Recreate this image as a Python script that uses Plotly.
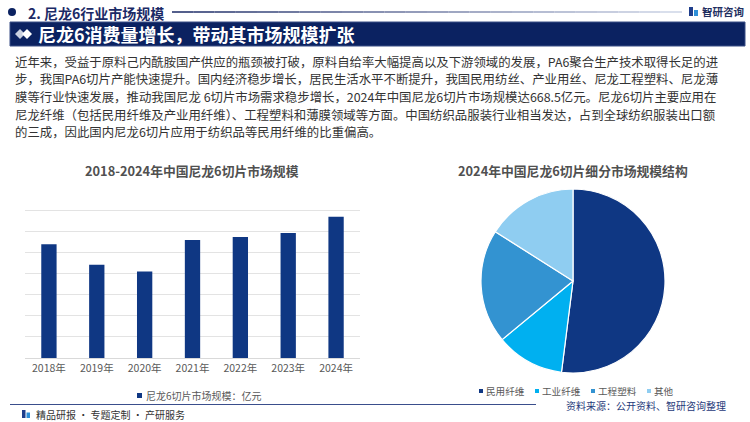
import plotly.graph_objects as go

W, H = 750, 422

# ---------------- data ----------------
years = ["2018年", "2019年", "2020年", "2021年", "2022年", "2023年", "2024年"]
market_size = [539, 442, 409, 559, 573, 592, 668.5]
bar_series_name = "尼龙6切片市场规模：亿元"

segments = ["民用纤维", "工业纤维", "工程塑料", "其他"]
segment_share = [52, 12, 20, 16]

header_text = "2. 尼龙6行业市场规模"
title_text = "尼龙6消费量增长，带动其市场规模扩张"
bar_title = "2018-2024年中国尼龙6切片市场规模"
pie_title = "2024年中国尼龙6切片细分市场规模结构"
paragraph_lines = [
    "近年来，受益于原料己内酰胺国产供应的瓶颈被打破，原料自给率大幅提高以及下游领域的发展，PA6聚合生产技术取得长足的进",
    "步，我国PA6切片产能快速提升。国内经济稳步增长，居民生活水平不断提升，我国民用纺丝、产业用丝、尼龙工程塑料、尼龙薄",
    "膜等行业快速发展，推动我国尼龙 6切片市场需求稳步增长，2024年中国尼龙6切片市场规模达668.5亿元。尼龙6切片主要应用在",
    "尼龙纤维（包括民用纤维及产业用纤维）、工程塑料和薄膜领域等方面。中国纺织品服装行业相当发达，占到全球纺织服装出口额",
    "的三成，因此国内尼龙6切片应用于纺织品等民用纤维的比重偏高。",
]
source_text = "资料来源：公开资料、智研咨询整理"
footer_text = "精品研报 · 专题定制 · 产研服务"
logo_text = "智研咨询"

# ---------------- styles ----------------
NAVY = "#0B2261"
BAR_COLOR = "#0F3783"
PIE_COLORS = ["#0F3783", "#00B0F0", "#3393D1", "#8FCDF1"]
GRAY = "#595959"
FONT = "Noto Sans CJK SC"


def px(x):
    return x / W


def py(y):
    return 1 - y / H


def diamond(cx, cy, r):
    pts = [(cx, cy - r), (cx + r, cy), (cx, cy + r), (cx - r, cy)]
    return "M " + " L ".join("%.5f,%.5f" % (px(a), py(b)) for a, b in pts) + " Z"


fig = go.Figure()

fig.add_trace(go.Bar(
    x=years, y=market_size, name=bar_series_name,
    marker=dict(color=BAR_COLOR, line=dict(width=0)),
    xaxis="x", yaxis="y", showlegend=False,
))

fig.add_trace(go.Pie(
    labels=segments, values=segment_share, sort=False, direction="clockwise",
    rotation=0, textinfo="none", hoverinfo="label+percent",
    marker=dict(colors=PIE_COLORS, line=dict(color="white", width=1.2)),
    domain=dict(x=[px(481), px(665)], y=[py(373), py(189)]),
    showlegend=False,
))

shapes = []
annotations = []

# header bullet + text
shapes.append(dict(type="circle", xref="paper", yref="paper",
                   x0=px(8), x1=px(16), y0=py(16), y1=py(8),
                   fillcolor=NAVY, line=dict(width=0)))
annotations.append(dict(text="<b>" + header_text + "</b>", x=px(26), y=py(12.5),
                        xref="paper", yref="paper", xanchor="left", yanchor="middle",
                        showarrow=False, font=dict(size=14, color="#1B2A66", family=FONT)))

# gradient header line
n = 24
x_start, x_end = 172, 682
c0 = (27, 42, 102)
c1 = (205, 212, 230)
for i in range(n):
    t = i / (n - 1)
    c = tuple(int(c0[k] + (c1[k] - c0[k]) * t) for k in range(3))
    xa = x_start + (x_end - x_start) * i / n
    xb = x_start + (x_end - x_start) * (i + 1) / n
    shapes.append(dict(type="line", xref="paper", yref="paper",
                       x0=px(xa), x1=px(xb), y0=py(12), y1=py(12),
                       line=dict(color="rgb(%d,%d,%d)" % c, width=1.5)))

# logo
shapes.append(dict(type="rect", xref="paper", yref="paper",
                   x0=px(689), x1=px(693), y0=py(16), y1=py(7),
                   fillcolor="#1F3E8C", line=dict(width=0)))
shapes.append(dict(type="rect", xref="paper", yref="paper",
                   x0=px(694), x1=px(698), y0=py(16), y1=py(10),
                   fillcolor="#2E8FD8", line=dict(width=0)))
annotations.append(dict(text="<b>" + logo_text + "</b>", x=px(700), y=py(11.5),
                        xref="paper", yref="paper", xanchor="left", yanchor="middle",
                        showarrow=False, font=dict(size=10.5, color="#1F2F5F", family=FONT)))

# title bar
shapes.append(dict(type="rect", xref="paper", yref="paper",
                   x0=px(10), x1=px(745), y0=py(46), y1=py(22),
                   fillcolor=NAVY, line=dict(color="#3B4F86", width=1)))
shapes.append(dict(type="path", xref="paper", yref="paper", path=diamond(20, 34, 5),
                   fillcolor="#C9D0E0", line=dict(width=0)))
shapes.append(dict(type="path", xref="paper", yref="paper", path=diamond(27, 34, 5),
                   fillcolor="white", line=dict(width=0)))
annotations.append(dict(text="<b>" + title_text + "</b>", x=px(36), y=py(34),
                        xref="paper", yref="paper", xanchor="left", yanchor="middle",
                        showarrow=False, font=dict(size=18, color="white", family=FONT)))

# paragraph
line_y = [61.6, 79.3, 97.0, 114.7, 132.4]
for txt, yy in zip(paragraph_lines, line_y):
    annotations.append(dict(text=txt, x=px(14), y=py(yy), xref="paper", yref="paper",
                            xanchor="left", yanchor="middle", showarrow=False, borderpad=0,
                            font=dict(size=12.4, color="#333333", family=FONT)))

# chart titles
annotations.append(dict(text="<b>" + bar_title + "</b>", x=px(192), y=py(170),
                        xref="paper", yref="paper", xanchor="center", yanchor="middle",
                        showarrow=False, font=dict(size=12.8, color="#505050", family=FONT)))
annotations.append(dict(text="<b>" + pie_title + "</b>", x=px(573), y=py(170),
                        xref="paper", yref="paper", xanchor="center", yanchor="middle",
                        showarrow=False, font=dict(size=12.8, color="#505050", family=FONT)))

# bar legend (manual)
shapes.append(dict(type="rect", xref="paper", yref="paper",
                   x0=px(137), x1=px(142), y0=py(398), y1=py(393),
                   fillcolor=BAR_COLOR, line=dict(width=0)))
annotations.append(dict(text=bar_series_name, x=px(144), y=py(395.5),
                        xref="paper", yref="paper", xanchor="left", yanchor="middle",
                        showarrow=False, font=dict(size=10, color=GRAY, family=FONT)))

# pie legend (manual)
leg_x = [479, 535, 591, 647]
for lab, col, lx in zip(segments, PIE_COLORS, leg_x):
    shapes.append(dict(type="rect", xref="paper", yref="paper",
                       x0=px(lx), x1=px(lx + 4), y0=py(393), y1=py(389),
                       fillcolor=col, line=dict(width=0)))
    annotations.append(dict(text=lab, x=px(lx + 6), y=py(391), borderpad=0,
                            xref="paper", yref="paper", xanchor="left", yanchor="middle",
                            showarrow=False, font=dict(size=9.6, color=GRAY, family=FONT)))

# footer
shapes.append(dict(type="line", xref="paper", yref="paper",
                   x0=px(10), x1=px(536), y0=py(404.5), y1=py(404.5),
                   line=dict(color="#3A4E8C", width=1)))
annotations.append(dict(text=source_text, x=px(727), y=py(405), borderpad=0,
                        xref="paper", yref="paper", xanchor="right", yanchor="middle",
                        showarrow=False, font=dict(size=10, color="#1F3A7A", family=FONT)))
shapes.append(dict(type="rect", xref="paper", yref="paper",
                   x0=px(22), x1=px(25.5), y0=py(418), y1=py(410),
                   fillcolor="#1F3E8C", line=dict(width=0)))
shapes.append(dict(type="rect", xref="paper", yref="paper",
                   x0=px(26.5), x1=px(30), y0=py(418), y1=py(412.5),
                   fillcolor="#2E8FD8", line=dict(width=0)))
annotations.append(dict(text=footer_text, x=px(34), y=py(414),
                        xref="paper", yref="paper", xanchor="left", yanchor="middle",
                        showarrow=False, font=dict(size=10, color="#333333", family=FONT)))

fig.update_layout(
    width=W, height=H,
    margin=dict(l=0, r=0, t=0, b=0),
    paper_bgcolor="white", plot_bgcolor="white",
    font=dict(family=FONT, color=GRAY),
    bargap=0.68,
    xaxis=dict(domain=[px(25), px(360)], anchor="y",
               showline=True, linecolor="#D9D9D9", linewidth=1,
               ticks="", tickfont=dict(size=10.5, color=GRAY, family=FONT),
               showgrid=False, fixedrange=True),
    yaxis=dict(domain=[py(358), py(189)], anchor="x", range=[0, 800], dtick=100,
               showticklabels=False, showgrid=True, gridcolor="#E3E3E3", gridwidth=1,
               zeroline=False, fixedrange=True),
    shapes=shapes,
    annotations=annotations,
    showlegend=False,
)

fig.write_html("out.html")
